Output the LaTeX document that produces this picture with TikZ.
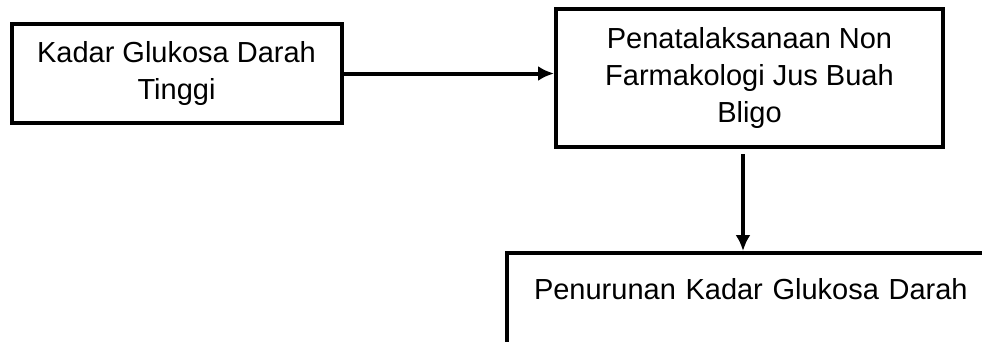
\documentclass[tikz,border=0pt]{standalone}
\usepackage{fontspec}
\setmainfont{Liberation Sans}
\usetikzlibrary{arrows.meta}

\begin{document}
\begin{tikzpicture}[x=1pt, y=-1pt,
   kotak/.style={draw, line width=4pt, align=center, inner sep=0pt,
      font=\fontsize{29}{37}\selectfont},
   panah/.style={line width=4pt, -{Latex[length=16pt,width=15pt]}}]
   \useasboundingbox (0,0) rectangle (982,341);
   \clip (0,0) rectangle (982,341);
   \node[kotak, minimum width=330pt, minimum height=99pt] (tinggi) at (176.5,73.5)
      {Kadar Glukosa Darah\\Tinggi};
   \node[kotak, minimum width=387pt, minimum height=138pt] (bligo) at (749.5,78)
      {Penatalaksanaan Non\\Farmakologi Jus Buah\\Bligo};
   \node[kotak, anchor=north west, align=left, inner xsep=27pt, text width=480pt,
      text height=46pt, text depth=46pt] (turun) at (505,251)
      {Penurunan Kadar Glukosa Darah};
   \draw[panah] (tinggi.east) -- (tinggi.east -| bligo.west);
   \draw[panah, shorten <=5pt] ([xshift=-6.5pt]bligo.south) -- ([xshift=-6.5pt]bligo.south |- turun.north);
  \end{tikzpicture}
\end{document}
